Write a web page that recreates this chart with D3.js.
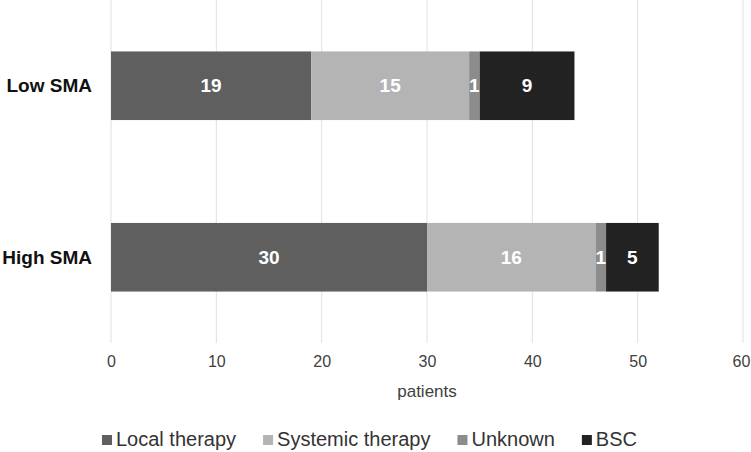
<!DOCTYPE html>
<html>
<head>
<meta charset="utf-8">
<script src="https://cdn.jsdelivr.net/npm/d3@7.9.0/dist/d3.min.js"></script>
<style>
  body { margin: 0; background: #fff; }
  text { font-family: "Liberation Sans", Arial, sans-serif; }
</style>
</head>
<body>
<svg width="751" height="452"></svg>
<script>
// data
const groups = ["Low SMA", "High SMA"];
const series = ["Local therapy", "Systemic therapy", "Unknown", "BSC"];
const localTherapy = [19, 30];
const systemicTherapy = [15, 16];
const unknown = [1, 1];
const bsc = [9, 5];
const xTicks = [0, 10, 20, 30, 40, 50, 60];
const colors = ["#5f5f5f", "#b4b4b4", "#8c8c8c", "#222222"];

const rows = groups.map((g, i) => ({
  group: g,
  "Local therapy": localTherapy[i],
  "Systemic therapy": systemicTherapy[i],
  "Unknown": unknown[i],
  "BSC": bsc[i]
}));

const svg = d3.select("svg");
const margin = { top: 0, left: 111, right: 8, bottom: 109 };
const height = 452 - margin.top - margin.bottom;

const g = svg.append("g").attr("transform", `translate(${margin.left},${margin.top})`);

const x = d3.scaleLinear().domain([0, 60]).range([0, 632]);
const y = d3.scaleBand().domain(groups).range([0, height]).paddingInner(0.6).paddingOuter(0.3);
const color = d3.scaleOrdinal().domain(series).range(colors);

// gridlines
g.selectAll(".grid")
  .data(xTicks)
  .join("line")
  .attr("x1", (d) => x(d)).attr("x2", (d) => x(d))
  .attr("y1", 0).attr("y2", height)
  .attr("stroke", "#e0e0e0").attr("stroke-width", 1);

// x axis labels
const xAxis = g.append("g")
  .attr("transform", `translate(0,${height})`)
  .call(d3.axisBottom(x).tickValues(xTicks).tickSize(0).tickPadding(13));
xAxis.select(".domain").remove();
xAxis.selectAll("text").attr("font-size", 16).attr("fill", "#404040");
// last label sits a bit left so it isn't cut at the edge
xAxis.selectAll("text").filter((d) => d === 60).attr("x", -2);

g.append("text")
  .attr("x", x(30)).attr("y", 397)
  .attr("text-anchor", "middle")
  .attr("font-size", 17).attr("fill", "#404040")
  .text("patients");

// group labels
g.selectAll(".glabel")
  .data(groups)
  .join("text")
  .attr("x", -19)
  .attr("y", (d) => y(d) + y.bandwidth() / 2)
  .attr("dy", "0.35em")
  .attr("text-anchor", "end")
  .attr("font-size", 19).attr("font-weight", "bold").attr("fill", "#111")
  .text((d) => d);

// stacked bars
const stacked = d3.stack().keys(series)(rows);

const layer = g.selectAll(".layer")
  .data(stacked)
  .join("g")
  .attr("fill", (d) => color(d.key));

layer.selectAll("rect")
  .data((d) => d)
  .join("rect")
  .attr("x", (d) => x(d[0]))
  .attr("y", (d) => y(d.data.group))
  .attr("width", (d) => x(d[1]) - x(d[0]))
  .attr("height", y.bandwidth());

layer.selectAll("text")
  .data((d) => d)
  .join("text")
  .attr("x", (d) => (x(d[0]) + x(d[1])) / 2)
  .attr("y", (d) => y(d.data.group) + y.bandwidth() / 2)
  .attr("dy", "0.35em")
  .attr("text-anchor", "middle")
  .attr("font-size", 19).attr("font-weight", "bold").attr("fill", "#fff")
  .text((d) => d[1] - d[0]);

// legend, laid out left to right from measured text widths
const legend = svg.append("g").attr("transform", "translate(102,0)");
let lx = 0;
series.forEach((s) => {
  const item = legend.append("g").attr("transform", `translate(${lx},0)`);
  item.append("rect")
    .attr("x", 0).attr("y", 435)
    .attr("width", 10).attr("height", 10)
    .attr("fill", color(s));
  const t = item.append("text")
    .attr("x", 14).attr("y", 446)
    .attr("font-size", 20).attr("fill", "#333")
    .text(s);
  lx += 14 + t.node().getComputedTextLength() + 27;
});
</script>
</body>
</html>
